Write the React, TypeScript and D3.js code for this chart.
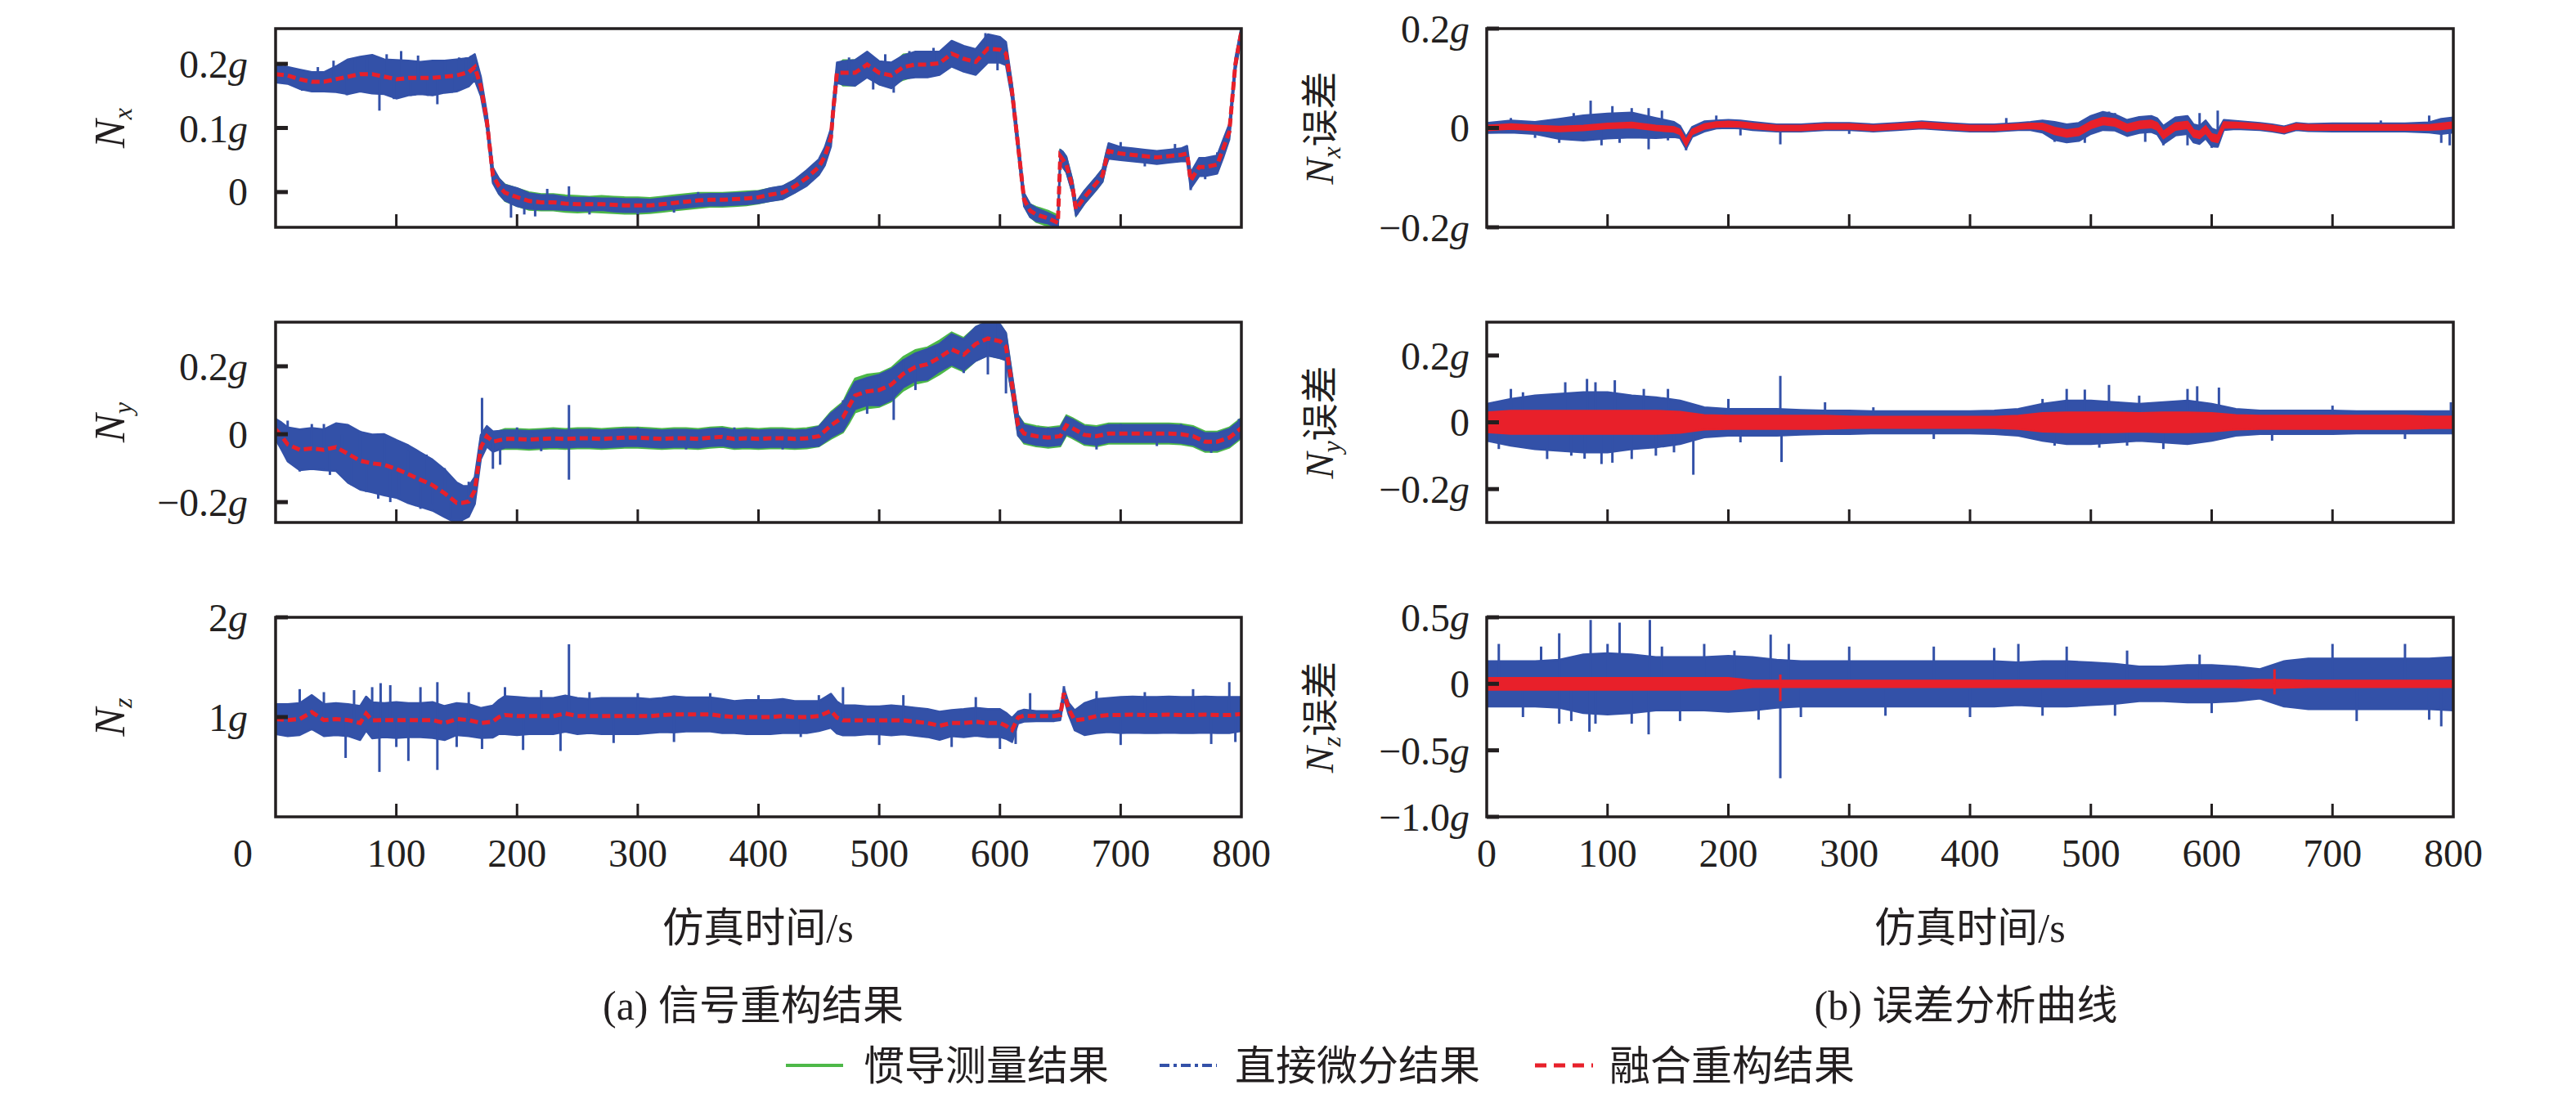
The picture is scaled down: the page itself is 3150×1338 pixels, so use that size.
import { useRef, useEffect } from 'react';
import * as d3 from 'd3';

// ---------- data ----------
const xTicks = [0, 100, 200, 300, 400, 500, 600, 700, 800];
const xTickLabels = ['0', '100', '200', '300', '400', '500', '600', '700', '800'];

// (a) Nx : time, fused (red) centre, blue spread, green spread
const lxTime = [0,10,20,30,40,50,60,70,80,90,100,110,120,130,140,150,160,165,170,175,180,185,190,200,210,220,230,240,250,260,270,280,290,300,310,320,330,340,350,360,370,380,390,400,410,420,430,440,450,455,460,462,465,470,480,490,500,510,520,530,540,550,560,570,580,590,600,605,610,615,620,625,630,640,648,650,652,655,660,663,670,680,685,688,690,700,710,720,730,740,750,755,758,765,770,780,785,790,795,800];
const lxRed = [0.184,0.182,0.176,0.172,0.172,0.176,0.180,0.184,0.184,0.180,0.176,0.178,0.178,0.178,0.180,0.182,0.187,
  0.195,0.165,0.111,0.026,0.009,-0.001,
  -0.008,-0.014,-0.016,-0.016,-0.018,-0.019,-0.019,-0.019,-0.020,-0.021,-0.021,-0.021,-0.019,-0.017,-0.015,-0.013,-0.012,-0.012,-0.011,-0.010,-0.008,-0.004,-0.001,0.009,0.022,0.039,
  0.056,0.085,0.130,0.186,
  0.186,0.186,0.199,0.186,0.182,0.195,0.199,0.199,0.201,0.216,0.208,0.203,0.224,0.222,
  0.216,0.157,0.073,-0.012,-0.029,-0.035,
  -0.041,-0.048,0.056,0.051,0.043,0.009,-0.027,-0.008,
  0.014,0.026,0.051,0.064,
  0.060,0.058,0.056,0.054,0.056,0.058,
  0.060,0.018,0.039,0.039,
  0.043,0.068,0.094,0.199,0.250];
const lxBlue = [0.013,0.013,0.015,0.015,0.015,0.02,0.027,0.027,0.03,0.027,0.03,0.027,0.025,0.027,0.025,0.025,0.022,
  0.02,0.015,0.012,0.012,0.012,0.012,
  0.014,0.012,0.011,0.011,0.01,0.01,0.01,0.009,0.01,0.01,0.01,0.009,0.009,0.009,0.009,0.009,0.009,0.009,0.009,0.009,0.009,0.01,0.01,0.01,0.012,0.012,
  0.014,0.014,0.014,0.016,
  0.018,0.02,0.02,0.018,0.02,0.018,0.02,0.02,0.018,0.02,0.02,0.02,0.022,0.02,
  0.018,0.012,0.012,0.01,0.01,0.01,
  0.008,0.008,0.01,0.012,0.012,0.01,0.01,0.01,
  0.01,0.01,0.01,0.012,
  0.01,0.01,0.01,0.01,0.01,0.01,
  0.012,0.012,0.014,0.014,
  0.014,0.014,0.012,0.01,0.008];
const lxGreen = [0.008,0.008,0.008,0.008,0.008,0.008,0.008,0.008,0.008,0.008,0.008,0.008,0.008,0.008,0.008,0.008,0.008,
  0.008,0.008,0.008,0.01,0.012,0.013,
  0.014,0.014,0.013,0.013,0.013,0.013,0.012,0.013,0.013,0.013,0.013,0.012,0.012,0.012,0.012,0.012,0.011,0.011,0.011,0.011,0.01,0.01,0.01,0.01,0.01,0.01,
  0.01,0.01,0.01,0.012,
  0.02,0.02,0.018,0.018,0.016,0.02,0.018,0.016,0.016,0.016,0.016,0.016,0.016,0.016,
  0.014,0.01,0.01,0.01,0.01,0.012,
  0.012,0.012,0.01,0.012,0.012,0.01,0.01,0.01,
  0.01,0.01,0.01,0.01,
  0.008,0.008,0.008,0.008,0.008,0.008,
  0.008,0.008,0.008,0.008,
  0.008,0.008,0.008,0.008,0.008];
const lxSpikes = [[8,0.2],[22,0.158],[35,0.195],[48,0.205],[59,0.151],[66,0.21],[76,0.21],[86,0.127],[92,0.215],[98,0.145],[104,0.22],[112,0.15],[118,0.213],[126,0.15],[134,0.137],[140,0.205],[146,0.155],[152,0.21],[158,0.21],[162,0.213],
  [195,-0.04],[206,-0.035],[215,-0.038],[225,0.005],[243,0.009],[260,-0.035],[300,-0.035],[330,-0.032],[350,0.0],
  [475,0.21],[495,0.16],[505,0.215],[512,0.155],[525,0.22],[545,0.225],[560,0.235],[575,0.185],[588,0.248],[595,0.24],[598,0.19],
  [664,-0.035],[700,0.078],[720,0.04],[745,0.075],[758,0.003],[770,0.02],[780,0.062]];
const lxTicks = [0, 0.1, 0.2];
const lxTickLabels = ['0', '0.1g', '0.2g'];

// (a) Ny
const lyTime = [0,5,10,20,30,40,50,60,70,80,90,100,110,120,130,140,150,155,160,165,170,175,180,190,200,210,220,230,240,250,260,270,280,290,300,310,320,330,340,350,360,370,380,390,400,410,420,430,440,450,460,470,475,480,490,500,510,520,530,540,550,560,570,580,590,600,605,610,615,620,630,640,650,655,660,670,680,690,700,710,720,730,740,750,760,770,780,790,800];
const lyRed = [0.015,-0.006,
  -0.030,-0.046,-0.042,-0.046,-0.038,-0.058,-0.078,-0.086,-0.090,-0.102,-0.118,-0.134,-0.150,-0.174,-0.202,
  -0.202,-0.198,-0.166,-0.038,-0.006,-0.022,
  -0.014,-0.014,-0.016,-0.014,-0.012,-0.014,-0.012,-0.012,-0.014,-0.012,-0.010,-0.010,-0.012,-0.014,-0.012,-0.012,-0.014,-0.010,-0.008,-0.014,-0.012,-0.014,-0.012,-0.012,-0.014,-0.012,-0.006,0.026,0.050,
  0.082,
  0.114,0.126,0.130,0.146,0.178,0.198,0.206,0.226,0.250,0.234,0.266,0.282,0.274,
  0.258,0.146,0.026,
  0.002,-0.006,-0.010,-0.006,
  0.026,
  0.018,-0.002,-0.006,0.002,0.002,0.002,0.002,0.002,0.002,0.000,-0.006,-0.022,-0.022,-0.010,0.018];
const lyBlue = [0.03,0.04,
  0.05,0.06,0.06,0.06,0.07,0.085,0.085,0.085,0.09,0.085,0.085,0.08,0.075,0.07,0.06,
  0.05,0.045,0.04,0.035,0.03,0.03,
  0.025,0.025,0.025,0.025,0.025,0.025,0.025,0.025,0.025,0.025,0.025,0.025,0.025,0.025,0.025,0.025,0.025,0.025,0.025,0.025,0.025,0.025,0.025,0.025,0.025,0.025,0.028,0.035,0.04,
  0.04,
  0.04,0.04,0.045,0.045,0.04,0.04,0.045,0.04,0.045,0.045,0.05,0.05,0.05,
  0.04,0.03,0.03,
  0.025,0.025,0.025,0.025,
  0.025,
  0.025,0.025,0.025,0.025,0.025,0.025,0.025,0.025,0.025,0.025,0.025,0.025,0.025,0.025,0.025];
const lyGreen = [0.025,0.03,
  0.035,0.035,0.035,0.035,0.035,0.035,0.035,0.035,0.035,0.035,0.035,0.035,0.035,0.035,0.035,
  0.035,0.035,0.03,0.03,0.025,0.025,
  0.03,0.03,0.03,0.03,0.03,0.03,0.03,0.03,0.03,0.03,0.03,0.03,0.03,0.03,0.03,0.03,0.03,0.03,0.03,0.03,0.03,0.03,0.03,0.03,0.03,0.03,0.03,0.04,0.045,
  0.05,
  0.05,0.05,0.05,0.05,0.05,0.05,0.05,0.05,0.05,0.05,0.05,0.05,0.05,
  0.04,0.03,0.03,
  0.03,0.03,0.03,0.03,
  0.03,
  0.03,0.03,0.03,0.03,0.03,0.03,0.03,0.03,0.03,0.03,0.03,0.03,0.03,0.03,0.03];
const lySpikes = [[10,0.04],[20,-0.11],[30,0.03],[40,0.03],[45,-0.12],[55,0.0],[63,-0.15],[70,0.01],[75,-0.17],[85,-0.19],[90,0.0],[95,-0.2],[102,-0.182],[110,-0.05],[120,-0.22],[125,-0.06],[130,-0.206],[140,-0.1],[145,-0.25],[154,-0.26],[160,-0.14],
  [171,0.107],[180,-0.102],[186,-0.09],[200,0.02],[220,-0.05],[243,0.086],[243,-0.134],[260,0.015],[300,0.02],[340,-0.045],[380,0.02],[420,-0.045],
  [470,0.1],[490,0.06],[500,0.17],[512,0.042],[520,0.22],[530,0.13],[545,0.25],[560,0.29],[570,0.18],[585,0.31],[590,0.176],[596,0.33],[605,0.12],
  [640,0.02],[660,0.045],[680,-0.045],[700,0.03],[730,-0.035],[750,0.03],[775,-0.055],[798,0.045]];
const lyTicks = [-0.2, 0, 0.2];
const lyTickLabels = ['−0.2g', '0', '0.2g'];

// (a) Nz
const lzTime = [0,10,20,30,40,50,60,70,75,80,90,100,110,120,130,140,150,160,170,180,185,190,200,210,220,230,240,250,260,270,280,290,300,310,320,330,340,350,360,370,380,390,400,410,420,430,440,450,460,465,470,480,490,500,510,520,530,540,550,560,570,580,590,600,605,610,615,620,630,640,645,650,653,657,662,670,680,690,700,710,720,730,740,750,760,770,780,790,800];
const lzRed = [0.98,0.97,0.98,1.05,0.97,0.98,0.97,0.94,
  1.035,
  0.967,0.97,0.97,0.97,0.97,0.97,0.94,0.98,0.97,0.94,0.955,
  1.0,
  1.02,1.01,1.01,1.01,1.01,1.035,1.01,1.01,1.01,1.01,1.01,1.01,1.01,1.02,1.027,1.027,1.027,1.027,1.01,1.0,1.0,1.0,1.0,1.01,1.0,1.0,1.01,1.063,
  0.995,
  0.967,0.967,0.967,0.967,0.967,0.967,0.953,0.94,0.913,0.94,0.94,0.953,0.94,0.94,
  0.913,0.87,0.995,1.014,
  1.01,1.01,1.01,1.02,1.24,1.08,0.967,
  0.98,1.01,1.02,1.02,1.025,1.02,1.02,1.025,1.02,1.02,1.025,1.02,1.02,1.03];
const lzBlue = [0.15,0.16,0.16,0.17,0.16,0.16,0.16,0.17,
  0.17,
  0.18,0.17,0.18,0.17,0.17,0.18,0.17,0.16,0.16,0.15,0.16,
  0.17,
  0.19,0.19,0.18,0.18,0.18,0.18,0.18,0.17,0.18,0.18,0.18,0.18,0.17,0.17,0.18,0.17,0.17,0.17,0.17,0.16,0.17,0.17,0.17,0.17,0.16,0.16,0.15,0.17,
  0.16,
  0.15,0.15,0.14,0.14,0.15,0.14,0.14,0.14,0.14,0.13,0.14,0.14,0.14,0.14,
  0.13,0.12,0.06,0.06,
  0.05,0.05,0.05,0.05,0.05,0.06,0.1,
  0.16,0.17,0.17,0.18,0.18,0.18,0.18,0.18,0.18,0.18,0.18,0.18,0.18,0.17];
const lzSpikes = [[20,1.28],[40,1.25],[58,0.59],[65,1.27],[80,1.3],[86,0.45],[87,1.34],[95,1.32],[100,0.7],[110,0.56],[120,1.3],[134,0.47],[134,1.35],[150,0.7],[160,1.25],[171,0.68],
  [190,1.3],[205,0.67],[220,1.27],[236,0.66],[243,1.73],[260,1.25],[280,0.74],[300,1.24],[330,0.75],[360,1.24],[400,1.22],[435,0.8],[450,1.22],
  [470,1.3],[500,0.72],[520,1.22],[560,0.7],[580,1.2],[600,0.68],[613,0.73],[625,1.24],[653,1.31],
  [680,1.26],[700,0.72],[720,1.25],[760,1.28],[775,0.73],[790,1.35],[795,0.75]];
const lzTicks = [1, 2];
const lzTickLabels = ['1g', '2g'];

// (b) Nx error : time, red centre, red spread, blue spread
const rxTime = [0,20,40,60,80,100,120,140,155,160,165,170,180,190,200,210,220,240,260,280,300,320,340,360,380,400,420,440,450,460,470,480,490,500,510,520,530,540,550,555,560,570,580,585,590,595,600,605,610,620,640,650,660,670,680,700,720,740,760,780,790,800];
const rxRed = [0,0.003,0,-0.002,0,0.004,0.006,0,
  -0.003,-0.008,-0.03,-0.008,
  0.003,0.007,0.008,0.007,0.004,
  0,0,0.003,0.003,0,0.003,0.006,0.003,0,0,0.003,
  0.004,0.003,-0.006,-0.011,-0.008,0.006,0.014,0.011,0,0.006,0.008,
  0.003,
  -0.014,0.003,0.006,
  -0.011,-0.014,-0.003,-0.019,-0.022,0.006,
  0.006,
  0.003,0,-0.004,0.003,0.001,
  0.001,0.001,0.001,0.001,0.001,
  0.003,0.006];
const rxRedSpread = [0.005,0.005,0.005,0.005,0.005,0.005,0.005,0.005,
  0.005,0.005,0.006,0.005,
  0.005,0.005,0.005,0.005,0.005,
  0.005,0.005,0.005,0.005,0.005,0.005,0.005,0.005,0.005,0.005,0.005,
  0.005,0.006,0.007,0.007,0.007,0.007,0.007,0.007,0.007,0.007,0.007,
  0.007,
  0.007,0.007,0.007,
  0.007,0.007,0.007,0.007,0.007,0.006,
  0.005,
  0.005,0.005,0.005,0.005,0.005,
  0.005,0.005,0.005,0.005,0.005,
  0.006,0.006];
const rxBlue = [0.01,0.012,0.012,0.02,0.025,0.025,0.025,0.02,
  0.015,0.012,0.012,0.01,
  0.01,0.008,0.008,0.008,0.008,
  0.007,0.007,0.007,0.007,0.007,0.007,0.007,0.007,0.007,0.007,0.007,
  0.008,0.012,0.018,0.018,0.018,0.018,0.018,0.016,0.016,0.016,0.016,
  0.016,
  0.018,0.018,0.018,
  0.018,0.018,0.018,0.018,0.016,0.01,
  0.008,
  0.007,0.007,0.007,0.007,0.007,
  0.008,0.008,0.008,0.008,0.01,
  0.015,0.015];
const rxSpikes = [[20,0.02],[40,-0.02],[60,-0.03],[72,0.03],[86,0.055],[95,-0.035],[104,0.044],[110,-0.03],[120,0.04],[134,0.04],[134,-0.043],[145,0.035],[150,-0.025],[165,-0.045],[190,0.025],[210,-0.015],
  [243,-0.033],[300,-0.012],[430,0.02],[470,-0.028],[495,-0.03],[515,0.033],[520,0.03],[545,-0.028],[560,-0.035],[580,-0.035],[590,0.03],[600,-0.04],[605,0.035],
  [740,0.015],[780,0.025],[790,-0.03],[797,-0.035]];
const rxTicks = [-0.2, 0, 0.2];
const rxTickLabels = ['−0.2g', '0', '0.2g'];

// (b) Ny error
const ryTime = [0,20,40,60,80,100,120,140,160,180,200,220,240,260,280,300,320,340,360,380,400,420,440,460,480,500,520,540,560,580,600,620,640,660,680,700,720,740,760,780,800];
const ryRed = [0,0,0,0,0,0,0,0,0,0,0,0,0,0,0,0,0,0,0,0,0,0,0,0,0,0,0,0,0,0,0,0,0,0,0,0,0,0,0,0,0];
const ryRedSpread = [0.03,0.035,0.035,0.035,0.035,0.035,0.035,0.035,0.032,0.022,0.02,0.02,0.02,0.02,0.02,0.018,0.017,0.017,0.017,0.017,0.017,0.017,0.02,0.028,0.03,0.03,0.03,0.028,0.03,0.03,0.028,0.022,0.02,0.02,0.02,0.02,0.02,0.02,0.02,0.018,0.018];
const ryBlue = [0.055,0.07,0.08,0.085,0.09,0.09,0.08,0.075,0.065,0.045,0.04,0.04,0.04,0.037,0.035,0.035,0.033,0.033,0.033,0.033,0.033,0.035,0.04,0.055,0.065,0.065,0.06,0.055,0.06,0.065,0.055,0.04,0.035,0.035,0.035,0.035,0.033,0.033,0.033,0.033,0.033];
const rySpikes = [[10,-0.08],[20,0.1],[30,0.09],[50,-0.11],[65,0.12],[70,-0.1],[81,-0.109],[83,0.13],[90,0.12],[95,-0.125],[104,-0.121],[106,0.126],[120,-0.11],[130,0.1],[140,-0.1],[150,0.1],[155,-0.09],[171,-0.157],
  [200,0.07],[210,-0.06],[243,0.139],[244,-0.119],[280,0.06],[320,0.045],[370,-0.05],
  [460,0.07],[470,-0.07],[480,0.1],[495,0.098],[507,-0.076],[515,0.112],[530,-0.07],[540,0.08],[560,-0.08],[580,0.1],[588,0.108],[606,0.104],
  [650,-0.055],[700,0.05],[760,-0.05],[798,0.06]];
const ryTicks = [-0.2, 0, 0.2];
const ryTickLabels = ['−0.2g', '0', '0.2g'];

// (b) Nz error
const rzTime = [0,20,40,60,80,100,120,140,160,180,200,220,240,260,280,300,320,340,360,380,400,420,440,460,480,500,520,540,560,580,600,620,640,660,680,700,720,740,760,780,800];
const rzRed = [0,0,0,0,0,0,0,0,0,0,0,0,0,0,0,0,0,0,0,0,0,0,0,0,0,0,0,0,0,0,0,0,0,0,0,0,0,0,0,0,0];
const rzRedSpread = [0.045,0.045,0.045,0.045,0.045,0.045,0.045,0.045,0.045,0.045,0.045,0.025,0.025,0.025,0.025,0.025,0.025,0.025,0.025,0.025,0.025,0.025,0.025,0.025,0.025,0.025,0.025,0.025,0.025,0.025,0.025,0.025,0.03,0.03,0.025,0.025,0.025,0.025,0.025,0.025,0.025];
const rzBlue = [0.17,0.17,0.17,0.18,0.22,0.23,0.22,0.2,0.2,0.2,0.21,0.2,0.18,0.17,0.17,0.17,0.17,0.17,0.17,0.17,0.17,0.17,0.16,0.17,0.17,0.16,0.15,0.13,0.13,0.14,0.14,0.13,0.11,0.17,0.19,0.19,0.19,0.19,0.19,0.19,0.2];
const rzSpikes = [[10,0.3],[30,-0.25],[45,0.28],[60,0.38],[60,-0.3],[70,-0.28],[85,-0.36],[86,0.48],[90,-0.3],[100,0.3],[110,0.46],[120,-0.3],[134,-0.38],[135,0.48],[145,0.28],[160,-0.28],[180,0.3],
  [205,0.25],[225,-0.27],[235,0.37],[243,-0.71],[250,0.3],[260,-0.25],[300,0.28],[330,-0.24],[370,0.28],[400,-0.25],[420,0.27],[440,0.3],[460,-0.24],[480,0.28],[520,-0.24],[530,0.25],[590,0.22],[600,-0.22],
  [700,0.3],[720,-0.28],[760,0.3],[780,-0.27],[790,-0.32]];
const rzRedSpikes = [[243,0.07],[243,-0.13],[652,0.11],[652,-0.08]];
const rzTicks = [-1, -0.5, 0, 0.5];
const rzTickLabels = ['−1.0g', '−0.5g', '0', '0.5g'];

const legendLabels = ['惯导测量结果', '直接微分结果', '融合重构结果'];

// ---------- layout ----------
const W = 3150;
const H = 1338;
const FONT = '"Liberation Serif", "Times New Roman", "Noto Sans CJK SC", serif';
const BLUE = '#3351a8';
const RED = '#e8202a';
const GREEN = '#4db848';
const INK = '#231f20';

const cols = [
  { x0: 337, x1: 1518, labelX: 152, gap: 34 },
  { x0: 1818, x1: 3000, labelX: 1630, gap: 21 },
];
const rows = [
  { y0: 35, y1: 278 },
  { y0: 394, y1: 639 },
  { y0: 755, y1: 999 },
];

const panels = [
  { id: 'lx', col: 0, row: 0, axis: 'x', time: lxTime, center: lxRed, blue: lxBlue, green: lxGreen, spikes: lxSpikes, domain: [-0.055, 0.255], ticks: lxTicks, tickLabels: lxTickLabels },
  { id: 'ly', col: 0, row: 1, axis: 'y', time: lyTime, center: lyRed, blue: lyBlue, green: lyGreen, spikes: lySpikes, domain: [-0.26, 0.33], ticks: lyTicks, tickLabels: lyTickLabels },
  { id: 'lz', col: 0, row: 2, axis: 'z', time: lzTime, center: lzRed, blue: lzBlue, spikes: lzSpikes, domain: [0, 2], ticks: lzTicks, tickLabels: lzTickLabels },
  { id: 'rx', col: 1, row: 0, axis: 'x', time: rxTime, center: rxRed, redSpread: rxRedSpread, blue: rxBlue, spikes: rxSpikes, domain: [-0.2, 0.2], ticks: rxTicks, tickLabels: rxTickLabels },
  { id: 'ry', col: 1, row: 1, axis: 'y', time: ryTime, center: ryRed, redSpread: ryRedSpread, blue: ryBlue, spikes: rySpikes, domain: [-0.3, 0.3], ticks: ryTicks, tickLabels: ryTickLabels },
  { id: 'rz', col: 1, row: 2, axis: 'z', time: rzTime, center: rzRed, redSpread: rzRedSpread, blue: rzBlue, spikes: rzSpikes, redSpikes: rzRedSpikes, domain: [-1, 0.5], ticks: rzTicks, tickLabels: rzTickLabels },
];

function drawPanel(svg: any, p: any) {
  const c = cols[p.col];
  const r = rows[p.row];
  const x = d3.scaleLinear().domain([0, 800]).range([c.x0, c.x1]);
  const y = d3.scaleLinear().domain(p.domain).range([r.y1, r.y0]);

  const rowsData = p.time.map((t: number, i: number) => ({
    t,
    c: p.center[i],
    b: p.blue[i],
    g: p.green ? p.green[i] : 0,
    r: p.redSpread ? p.redSpread[i] : 0,
  }));
  const near = (t: number) => rowsData[d3.bisector((d: any) => d.t).center(rowsData, t)].c;

  const clipId = `clip-${p.id}`;
  svg.append('clipPath').attr('id', clipId)
    .append('rect').attr('x', c.x0).attr('y', r.y0).attr('width', c.x1 - c.x0).attr('height', r.y1 - r.y0);
  const plot = svg.append('g').attr('clip-path', `url(#${clipId})`);

  const band = (key: string) => d3.area<any>()
    .x((d) => x(d.t))
    .y0((d) => y(d.c - d[key]))
    .y1((d) => y(d.c + d[key]));

  if (p.green) {
    plot.append('path').datum(rowsData).attr('d', band('g'))
      .attr('fill', GREEN).attr('stroke', GREEN).attr('stroke-width', 2);
  }

  plot.append('path').datum(rowsData).attr('d', band('b'))
    .attr('fill', BLUE).attr('stroke', BLUE).attr('stroke-width', 2.5).attr('stroke-linejoin', 'round');

  plot.selectAll('.spike').data(p.spikes).enter().append('line')
    .attr('x1', (d: any) => x(d[0])).attr('x2', (d: any) => x(d[0]))
    .attr('y1', (d: any) => y(near(d[0]))).attr('y2', (d: any) => y(d[1]))
    .attr('stroke', BLUE).attr('stroke-width', 3);

  if (p.redSpread) {
    plot.append('path').datum(rowsData).attr('d', band('r'))
      .attr('fill', RED).attr('stroke', RED).attr('stroke-width', 2);
    if (p.redSpikes) {
      plot.selectAll('.rspike').data(p.redSpikes).enter().append('line')
        .attr('x1', (d: any) => x(d[0])).attr('x2', (d: any) => x(d[0]))
        .attr('y1', (d: any) => y(near(d[0]))).attr('y2', (d: any) => y(d[1]))
        .attr('stroke', RED).attr('stroke-width', 3);
    }
  } else {
    const line = d3.line<any>().x((d) => x(d.t)).y((d) => y(d.c));
    plot.append('path').datum(rowsData).attr('d', line)
      .attr('fill', 'none').attr('stroke', RED).attr('stroke-width', 5)
      .attr('stroke-dasharray', '10 5');
  }

  // frame
  svg.append('rect').attr('x', c.x0).attr('y', r.y0)
    .attr('width', c.x1 - c.x0).attr('height', r.y1 - r.y0)
    .attr('fill', 'none').attr('stroke', INK).attr('stroke-width', 3.5);

  // inward x ticks
  svg.selectAll(`.xt-${p.id}`).data(xTicks.slice(1, -1)).enter().append('line')
    .attr('x1', (d: number) => x(d)).attr('x2', (d: number) => x(d))
    .attr('y1', r.y1).attr('y2', r.y1 - 16)
    .attr('stroke', INK).attr('stroke-width', 3);

  // inward y ticks
  svg.selectAll(`.yt-${p.id}`).data(p.ticks).enter().append('line')
    .attr('x1', c.x0).attr('x2', c.x0 + 15)
    .attr('y1', (d: number) => y(d)).attr('y2', (d: number) => y(d))
    .attr('stroke', INK).attr('stroke-width', 5);

  p.ticks.forEach((v: number, i: number) => {
    const s: string = p.tickLabels[i];
    const t = svg.append('text')
      .attr('x', c.x0 - c.gap).attr('y', y(v))
      .attr('text-anchor', 'end').attr('dominant-baseline', 'central')
      .attr('font-family', FONT).attr('font-size', 48).attr('fill', INK);
    if (s.endsWith('g')) {
      t.append('tspan').text(s.slice(0, -1));
      t.append('tspan').attr('font-style', 'italic').text('g');
    } else {
      t.text(s);
    }
  });

  if (p.row === 2) {
    xTicks.forEach((v, i) => {
      const dx = p.col === 0 && v === 0 ? -40 : 0;
      svg.append('text').attr('x', x(v) + dx).attr('y', 1043)
        .attr('text-anchor', 'middle').attr('dominant-baseline', 'central')
        .attr('font-family', FONT).attr('font-size', 48).attr('fill', INK)
        .text(xTickLabels[i]);
    });
  }

  // y-axis title
  const cy = (r.y0 + r.y1) / 2;
  const lab = svg.append('text')
    .attr('transform', `translate(${c.labelX},${cy}) rotate(-90)`)
    .attr('text-anchor', 'middle').attr('font-family', FONT).attr('fill', INK);
  lab.append('tspan').attr('font-style', 'italic').attr('font-size', p.col === 0 ? 52 : 48).text('N');
  lab.append('tspan').attr('font-style', 'italic').attr('font-size', 32).attr('dy', 9).text(p.axis);
  if (p.col === 1) {
    lab.append('tspan').attr('font-size', 46).attr('dy', -9).text('误差');
  }
}

export default function App() {
  const svgRef = useRef<SVGSVGElement>(null);

  useEffect(() => {
    if (!svgRef.current) return;
    const svg = d3.select(svgRef.current);
    svg.selectAll('*').remove();

    panels.forEach((p) => drawPanel(svg, p));

    const text = (x: number, y: number, s: string, anchor = 'middle') =>
      svg.append('text').attr('x', x).attr('y', y).attr('text-anchor', anchor)
        .attr('font-family', FONT).attr('font-size', 50).attr('fill', INK).text(s);

    text(927, 1152, '仿真时间/s');
    text(2409, 1152, '仿真时间/s');
    text(921, 1247, '(a) 信号重构结果');
    text(2404, 1247, '(b) 误差分析曲线');

    // legend
    const legend = [
      { x0: 961, x1: 1031, tx: 1056, color: GREEN, dash: null, w: 4 },
      { x0: 1418, x1: 1488, tx: 1510, color: BLUE, dash: '12 5 4 5', w: 4 },
      { x0: 1877, x1: 1948, tx: 1968, color: RED, dash: '14 9', w: 5 },
    ];
    legend.forEach((l, i) => {
      const ln = svg.append('line').attr('x1', l.x0).attr('x2', l.x1)
        .attr('y1', 1303).attr('y2', 1303)
        .attr('stroke', l.color).attr('stroke-width', l.w);
      if (l.dash) ln.attr('stroke-dasharray', l.dash);
      text(l.tx, 1321, legendLabels[i], 'start');
    });
  }, []);

  return (
    <svg
      ref={svgRef}
      width={W}
      height={H}
      viewBox={`0 0 ${W} ${H}`}
      style={{ position: 'absolute', left: 0, top: 0, background: '#fff' }}
    />
  );
}
